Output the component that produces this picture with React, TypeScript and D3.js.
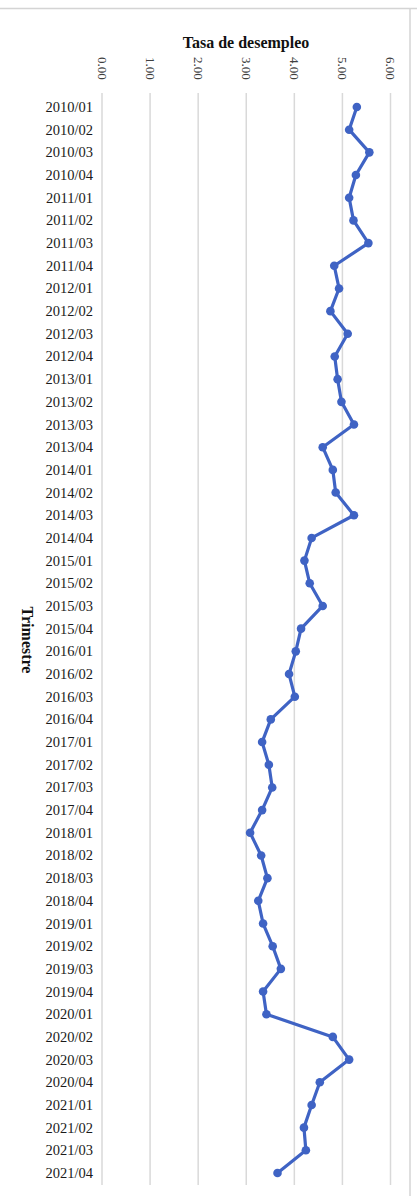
import React from "react";
import * as d3 from "d3";

const categories: string[] = [
  "2010/01","2010/02","2010/03","2010/04",
  "2011/01","2011/02","2011/03","2011/04",
  "2012/01","2012/02","2012/03","2012/04",
  "2013/01","2013/02","2013/03","2013/04",
  "2014/01","2014/02","2014/03","2014/04",
  "2015/01","2015/02","2015/03","2015/04",
  "2016/01","2016/02","2016/03","2016/04",
  "2017/01","2017/02","2017/03","2017/04",
  "2018/01","2018/02","2018/03","2018/04",
  "2019/01","2019/02","2019/03","2019/04",
  "2020/01","2020/02","2020/03","2020/04",
  "2021/01","2021/02","2021/03","2021/04",
];

const tasaDesempleo: number[] = [
  5.30, 5.14, 5.56, 5.28,
  5.14, 5.23, 5.54, 4.83,
  4.93, 4.75, 5.11, 4.84,
  4.90, 4.98, 5.24, 4.59,
  4.80, 4.86, 5.24, 4.36,
  4.21, 4.32, 4.59, 4.14,
  4.03, 3.89, 4.01, 3.51,
  3.33, 3.47, 3.54, 3.33,
  3.08, 3.31, 3.44, 3.25,
  3.35, 3.55, 3.72, 3.35,
  3.42, 4.80, 5.14, 4.53,
  4.36, 4.20, 4.24, 3.65,
];

const xTicks: number[] = [0, 1, 2, 3, 4, 5, 6];
const xTitle = "Tasa de desempleo";
const yTitle = "Trimestre";

const W = 417;
const H = 1196;

export default function App() {
  const x = d3.scaleLinear().domain([0, 6]).range([102, 390.5]);
  const y = d3
    .scalePoint<string>()
    .domain(categories)
    .range([107, 1173]);

  const pts = categories.map((c, i) => [x(tasaDesempleo[i]), y(c) as number] as [number, number]);
  const line = d3.line<[number, number]>()(pts) || "";
  const color = "#3f63c4";
  const font = "'Liberation Serif', 'Times New Roman', serif";

  return (
    <svg
      width={W}
      height={H}
      style={{ position: "absolute", left: 0, top: 0, background: "#fff" }}
      fontFamily={font}
    >
      <rect x={0} y={0} width={W} height={H} fill="#fff" />
      <line x1={0} x2={W} y1={8.5} y2={8.5} stroke="#d4d4d4" strokeWidth={1.5} />
      <line x1={410} x2={410} y1={8} y2={H} stroke="#d4d4d4" strokeWidth={1.5} />
      {xTicks.slice(1).map((t) => (
        <line key={t} x1={x(t)} x2={x(t)} y1={93} y2={1185} stroke="#d9d9d9" strokeWidth={1.5} />
      ))}
      <line x1={x(0)} x2={x(0)} y1={93} y2={1185} stroke="#d9d9d9" strokeWidth={1.5} />
      {xTicks.map((t) => (
        <text
          key={t}
          transform={`translate(${x(t)},${57}) rotate(90)`}
          fontSize={13}
          dominantBaseline="central"
          textAnchor="start"
          fill="#404040"
        >
          {t.toFixed(2)}
        </text>
      ))}
      {categories.map((c) => (
        <text
          key={c}
          x={93}
          y={(y(c) as number)}
          fontSize={14.5}
          textAnchor="end"
          dominantBaseline="central"
          fill="#1a1a1a"
        >
          {c}
        </text>
      ))}
      <text x={246} y={48} textAnchor="middle" fontSize={16} fontWeight="bold" fill="#111">
        {xTitle}
      </text>
      <text
        transform={`translate(27,640) rotate(90)`}
        textAnchor="middle"
        dominantBaseline="central"
        fontSize={16}
        fontWeight="bold"
        fill="#111"
      >
        {yTitle}
      </text>
      <path d={line} fill="none" stroke={color} strokeWidth={3.2} strokeLinejoin="round" />
      {pts.map((p, i) => (
        <circle key={i} cx={p[0]} cy={p[1]} r={4.3} fill={color} />
      ))}
    </svg>
  );
}
